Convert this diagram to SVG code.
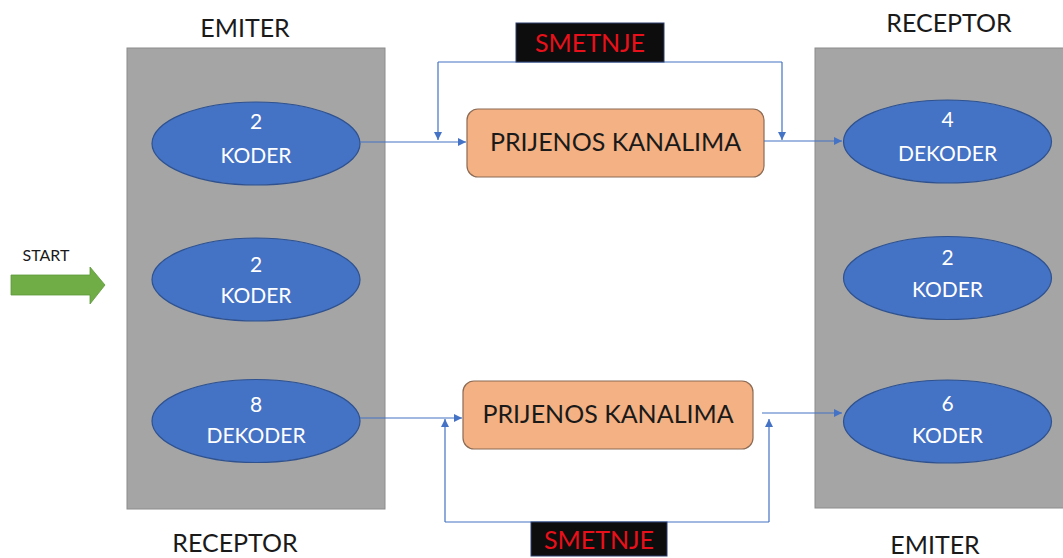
<svg xmlns="http://www.w3.org/2000/svg" width="1063" height="558" viewBox="0 0 1063 558">
<style>
.panel{fill:#A5A5A5;stroke:#8C8C8C;stroke-width:1}
.ell{fill:#4472C4;stroke:#2F528F;stroke-width:1.2}
.et{font-family:Lato,"Open Sans","Liberation Sans",sans-serif;font-size:21px;fill:#FFFFFF;text-anchor:middle}
.box{fill:#F4B183;stroke:#8B6B55;stroke-width:1.2}
.bt{font-family:Lato,"Open Sans","Liberation Sans",sans-serif;font-size:25px;fill:#1A1A1A;text-anchor:middle}
.lbl{font-family:Lato,"Open Sans","Liberation Sans",sans-serif;font-size:25px;fill:#1A1A1A;text-anchor:middle}
.sm{fill:#0D0D0D;stroke:#2F3F6F;stroke-width:1}
.smt{font-family:Lato,"Open Sans","Liberation Sans",sans-serif;font-size:25px;fill:#E8101A;text-anchor:middle}
.ln{fill:none;stroke:#4472C4;stroke-width:1.2}
</style>
<defs>
<marker id="ah" viewBox="0 0 10 10" refX="10" refY="5" markerWidth="8" markerHeight="8" markerUnits="userSpaceOnUse" orient="auto">
<path d="M0,0 L10,5 L0,10 Z" fill="#4472C4"/>
</marker>
</defs>
<rect width="1063" height="558" fill="#FFFFFF"/>
<g id="emiter-panel">
<rect class="panel" x="127" y="48" width="258" height="461"/>
</g>
<g id="receptor-panel">
<rect class="panel" x="815" y="48" width="260" height="460"/>
</g>
<g id="lbl-emiter-top"><text class="lbl" x="245" y="37">EMITER</text></g>
<g id="lbl-receptor-bottom"><text class="lbl" x="235" y="552">RECEPTOR</text></g>
<g id="lbl-receptor-top"><text class="lbl" x="949" y="32">RECEPTOR</text></g>
<g id="lbl-emiter-bottom"><text class="lbl" x="935" y="554">EMITER</text></g>
<g id="start">
<text x="46" y="261" font-family="Lato,'Open Sans','Liberation Sans',sans-serif" font-size="16" fill="#1A1A1A" text-anchor="middle">START</text>
<path d="M11,275 L90,275 L90,267 L105,285 L90,304 L90,295 L11,295 Z" fill="#70AD47" stroke="#5E9A3A" stroke-width="0.8"/>
</g>
<g id="l1"><ellipse class="ell" cx="256" cy="143.5" rx="104" ry="41.5"/><text class="et" x="256" y="129">2</text><text class="et" x="256" y="163">KODER</text></g>
<g id="l2"><ellipse class="ell" cx="256" cy="279.5" rx="104" ry="41.5"/><text class="et" x="256" y="272">2</text><text class="et" x="256" y="303">KODER</text></g>
<g id="l3"><ellipse class="ell" cx="256" cy="421" rx="104" ry="41.5"/><text class="et" x="256" y="412">8</text><text class="et" x="256" y="443">DEKODER</text></g>
<g id="r1"><ellipse class="ell" cx="947.5" cy="141.5" rx="104" ry="41.5"/><text class="et" x="947.5" y="127">4</text><text class="et" x="947.5" y="161">DEKODER</text></g>
<g id="r2"><ellipse class="ell" cx="947.5" cy="278" rx="104" ry="41.5"/><text class="et" x="947.5" y="265">2</text><text class="et" x="947.5" y="297">KODER</text></g>
<g id="r3"><ellipse class="ell" cx="947.5" cy="421.5" rx="104" ry="41.5"/><text class="et" x="947.5" y="411">6</text><text class="et" x="947.5" y="443">KODER</text></g>
<g id="ch1"><rect class="box" x="467" y="109" width="297" height="68" rx="11"/><text class="bt" x="615.5" y="151">PRIJENOS KANALIMA</text></g>
<g id="ch2"><rect class="box" x="463" y="381" width="290" height="68" rx="11"/><text class="bt" x="608" y="423">PRIJENOS KANALIMA</text></g>
<g id="connectors">
<path class="ln" d="M360,142 L466,142" marker-end="url(#ah)"/>
<path class="ln" d="M764,141 L842,141" marker-end="url(#ah)"/>
<path class="ln" d="M438,62 L782,62"/>
<path class="ln" d="M438,62 L438,140" marker-end="url(#ah)"/>
<path class="ln" d="M782,62 L782,140" marker-end="url(#ah)"/>
<path class="ln" d="M360,418 L462,418" marker-end="url(#ah)"/>
<path class="ln" d="M762,413 L842,413" marker-end="url(#ah)"/>
<path class="ln" d="M445,522 L769,522"/>
<path class="ln" d="M445,522 L445,419" marker-end="url(#ah)"/>
<path class="ln" d="M769,522 L769,419" marker-end="url(#ah)"/>
</g>
<g id="smetnje-top"><rect class="sm" x="516" y="23" width="148" height="39"/><text class="smt" x="590" y="52">SMETNJE</text></g>
<g id="smetnje-bottom"><rect class="sm" x="531" y="522" width="136" height="34"/><text class="smt" x="599" y="549">SMETNJE</text></g>
</svg>
